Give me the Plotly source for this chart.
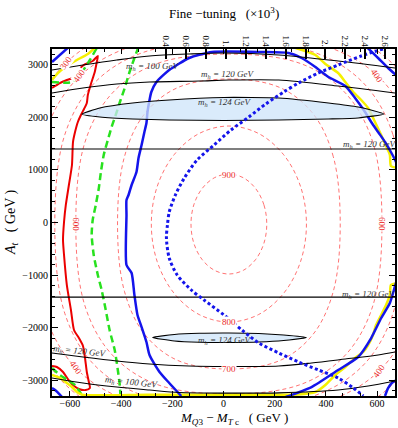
import plotly.graph_objects as go

# ---------------- data (GeV) ----------------
# fine-tuning contours (red dashed), closed loops
FT_LEVELS = [900, 800, 700, 600, 500, 400, 300]
FT900_x = [169,158,126,78,21,-36,-84,-116,-127,-116,-84,-36,21,78,126,158,169]
FT900_y = [-29,335,643,850,922,850,643,335,-29,-393,-701,-908,-980,-908,-701,-393,-29]
FT800_x = [324,301,235,137,21,-95,-193,-259,-282,-259,-193,-95,21,137,235,301,324]
FT800_y = [-29,685,1289,1693,1835,1693,1289,685,-29,-743,-1347,-1751,-1893,-1751,-1347,-743,-29]
FT700_x = [456,429,351,223,21,-181,-309,-387,-414,-387,-309,-181,21,223,351,429,456]
FT700_y = [-29,1251,2062,2561,2729,2561,2062,1251,-29,-1309,-2120,-2619,-2787,-2619,-2120,-1309,-29]
FT600_x = [619,584,479,307,21,-265,-437,-542,-577,-542,-437,-265,21,307,479,584,619]
FT600_y = [-29,1516,2448,3013,3204,3013,2448,1516,-29,-1574,-2506,-3071,-3262,-3071,-2506,-1574,-29]
FT500_x = [701,662,547,355,21,-313,-505,-620,-659,-620,-505,-313,21,355,547,662,701]
FT500_y = [-29,1671,2651,3236,3433,3236,2651,1671,-29,-1729,-2709,-3294,-3491,-3294,-2709,-1729,-29]
FT400_x = [778,735,607,393,21,-351,-565,-693,-736,-693,-565,-351,21,393,607,735,778]
FT400_y = [-29,1745,2768,3364,3585,3364,2768,1745,-29,-1803,-2826,-3422,-3643,-3422,-2826,-1803,-29]
FT300_x = [844,797,658,425,21,-383,-616,-755,-802,-755,-616,-383,21,425,658,797,844]
FT300_y = [-29,1913,3033,3685,3927,3685,3033,1913,-29,-1971,-3091,-3743,-3985,-3743,-3091,-1971,-29]

# fine-tuning contour labels
FT_LAB_text = ["900", "800", "700", "600", "600", "400", "400", "400", "400", "300"]
FT_LAB_x = [21, 21, 21, -577, 619, -565, 600, 607, -575, -616]
FT_LAB_y = [900, -1893, -2787, -29, -29, 2790, 2790, -2826, -2760, 3033]
FT_LAB_ang = [0, 0, 0, 90, 90, -55, 55, -55, 55, -55]

# m_h contours (black)
MH100U_x = [-670,-549,-417,-289,-134,2,216,448,670]
MH100U_y = [2901,2996,3091,3167,3205,3224,3186,3072,2939]
MH120U_x = [-670,-549,-417,-289,-95,21,216,448,670]
MH120U_y = [2463,2558,2634,2672,2691,2710,2710,2596,2463]
MH120M_x = [-670,0,670]
MH120M_y = [1398,1398,1398]
MH120N_x = [-670,0,670]
MH120N_y = [-1420,-1420,-1420]
MH120L_x = [-670,-549,-417,-289,-134,2,216,344,476,604,670]
MH120L_y = [-2482,-2558,-2634,-2691,-2729,-2739,-2729,-2672,-2596,-2520,-2463]
MH100L_x = [-670,-549,-417,-289,-173,2,216,448,565,670]
MH100L_y = [-2957,-3053,-3129,-3186,-3234,-3245,-3240,-3186,-3110,-3015]
# m_h = 124 GeV bands
MH124U_x = [-553,-483,-355,-212,2,216,410,526,627,526,410,216,2,-212,-355,-483,-553]
MH124U_y = [2060,2178,2273,2330,2378,2368,2273,2197,2064,1988,1969,1950,1940,1950,1969,2007,2060]
MH124L_x = [-277,-192,-95,21,138,235,324,235,138,21,-95,-192,-277]
MH124L_y = [-2187,-2130,-2107,-2102,-2111,-2140,-2187,-2244,-2273,-2282,-2279,-2254,-2187]

MH_LAB_text = ["100", "120", "124", "120", "120", "124", "120", "100"]
MH_LAB_x = [-277, 17, 2, 570, 566, 2, -561, -359]
MH_LAB_y = [2975, 2824, 2292, 1491, -1360, -2235, -2463, -3034]
MH_LAB_ang = [0, 0, 0, 0, 0, 0, 6, 6]

# red solid constraint
RED_x = [-670,-639,-612,-580,-569,-546,-511,-491,-495,-503,-518,-530,-534,-545,-557,-569,-580,-588,
         -592,-604,-616,-623,-627,-623,-612,-596,-584,-565,-549,-541,-534,-526,-522,-538,-565,-588,
         -608,-627,-651,-670]
RED_y = [2558,2653,2710,2767,2882,2996,3072,3167,3053,2863,2634,2425,2273,2159,2045,1912,1721,1531,
         1094,713,333,10,-333,-618,-1189,-1664,-2045,-2197,-2349,-2577,-2843,-3034,-3148,-3186,-3167,
         -3091,-2977,-2843,-2748,-2729]

# green dashed constraint
GRN_x = [-332,-348,-367,-386,-406,-421,-437,-452,-468,-479,-487,-499,-511,-515,-507,-491,-476,-460,
         -445,-425,-414,-406,-402]
GRN_y = [3338,3129,2863,2558,2273,2045,1817,1569,1284,960,656,333,48,-238,-618,-998,-1284,-1664,
         -2045,-2425,-2767,-3053,-3319]
GRN2_x = [-670,-592,-553,-522,-495]
GRN2_y = [2672,2672,2863,3091,3319]
GRN3_x = [-670,-639,-608,-580,-561,-549]
GRN3_y = [-2767,-2900,-2996,-3091,-3224,-3319]

# blue solid constraint
BLU_x = [-165,-212,-250,-289,-301,-320,-336,-348,-359,-379,-379,-379,-371,-359,-340,-332,-320,-309,
         -301,-297,-289,-282,-262,-212,-134,-45,149,254,305,359,410,476,514,553,577,604,631,654,674,
         760,674,650,616,577,526,448,344,243]
BLU_y = [-3300,-3053,-2843,-2520,-2273,-1988,-1759,-1379,-960,-808,143,428,523,713,960,1227,1474,
         1721,1893,2102,2330,2482,2672,2900,3129,3243,3243,3224,3129,2958,2767,2596,2368,2102,1912,
         1721,1531,1341,1151,0,-1151,-1531,-1817,-2197,-2558,-2805,-3129,-3319]
BLU2_x = [553,604,643,680]
BLU2_y = [3367,3129,2939,2780]
BLU3_x = [631,643,662,680]
BLU3_y = [-3300,-3148,-3034,-2990]
BLU4_x = [-670,-600]
BLU4_y = [3053,3357]
BLU5_x = [-670,-658,-631]
BLU5_y = [-3150,-3186,-3319]

# blue dotted
DOT_x = [623,538,448,371,293,235,165,99,29,-37,-103,-153,-188,-212,-219,-223,-212,-181,-126,-76,2,
         72,138,216,293,371,448,507,546]
DOT_y = [3300,3167,2996,2844,2653,2482,2254,2007,1759,1474,1189,846,523,200,-48,-295,-675,-998,
         -1284,-1474,-1759,-2045,-2292,-2482,-2653,-2805,-2958,-3148,-3300]

# yellow
YEL1_x = [-670,-647,-612,-573,-530,-503]
YEL1_y = [2710,2843,2977,3091,3205,3319]
YEL2_x = [282,359,398,448,476,507,538,565,592,616,635,650,654,680]
YEL2_y = [3319,3186,3015,2844,2672,2482,2330,2178,1912,1664,1455,1284,1075,1037]
YEL3_x = [-670,-639,-612,-592,-573,-553,-300,0,216,293,359,398,437,476,514,546,565,584,596,616,
          635,650,654,680]
YEL3_y = [-2900,-2958,-3053,-3129,-3224,-3275,-3275,-3275,-3275,-3270,-3224,-3091,-2901,-2748,
          -2577,-2463,-2330,-2140,-1950,-1759,-1569,-1379,-1189,-1151]

# top axis (fine-tuning x 10^3)
FT_TICKVALS = [0.4, 0.6, 0.8, 1.0, 1.2, 1.4, 1.6, 1.8, 2.0, 2.2, 2.4, 2.6]
FT_TICKTEXT = ["0.4", "0.6", "0.8", "1.", "1.2", "1.4", "1.6", "1.8", "2.", "2.2", "2.4", "2.6"]

SERIF = "Liberation Serif"

fig = go.Figure()

def ln(x, y, color, width, dash="solid", shape="spline", smoothing=1.0):
    fig.add_trace(go.Scatter(x=x, y=y, mode="lines", hoverinfo="skip",
                             line=dict(color=color, width=width, dash=dash, shape=shape,
                                       smoothing=smoothing)))

# red dashed fine-tuning contours
for xs, ys in [(FT900_x, FT900_y), (FT800_x, FT800_y), (FT700_x, FT700_y), (FT600_x, FT600_y),
               (FT500_x, FT500_y), (FT400_x, FT400_y), (FT300_x, FT300_y)]:
    ln(xs, ys, "rgba(255,90,90,0.85)", 1, dash="4px,3px")

# colored constraint lines
ln(RED_x, RED_y, "rgb(235,0,0)", 2, smoothing=0.6)
ln(GRN_x, GRN_y, "rgb(40,225,30)", 2.5, dash="7px,4px", smoothing=0.6)
ln(GRN2_x, GRN2_y, "rgb(40,225,30)", 2.5, dash="7px,4px", smoothing=0.6)
ln(GRN3_x, GRN3_y, "rgb(40,225,30)", 2.5, dash="7px,4px", smoothing=0.6)
ln(YEL1_x, YEL1_y, "rgb(245,240,0)", 2.5, smoothing=0.6)
ln(YEL2_x, YEL2_y, "rgb(245,240,0)", 2.5, smoothing=0.6)
ln(YEL3_x, YEL3_y, "rgb(245,240,0)", 2.5, smoothing=0.6)
ln(BLU_x, BLU_y, "rgb(20,20,235)", 2.5, smoothing=0.6)
ln(BLU2_x, BLU2_y, "rgb(20,20,235)", 2.5, smoothing=0.6)
ln(BLU3_x, BLU3_y, "rgb(20,20,235)", 2.5, smoothing=0.6)
ln(BLU4_x, BLU4_y, "rgb(20,20,235)", 2.5)
ln(BLU5_x, BLU5_y, "rgb(20,20,235)", 2.5)

# m_h = 124 GeV bands
for xs, ys in [(MH124U_x, MH124U_y), (MH124L_x, MH124L_y)]:
    fig.add_trace(go.Scatter(x=xs, y=ys, mode="lines", fill="toself", hoverinfo="skip",
                             fillcolor="rgba(205,228,250,0.75)",
                             line=dict(color="black", width=1.1, shape="spline", smoothing=0.5)))

# m_h black contours
for xs, ys in [(MH100U_x, MH100U_y), (MH120U_x, MH120U_y), (MH120M_x, MH120M_y),
               (MH120N_x, MH120N_y), (MH120L_x, MH120L_y), (MH100L_x, MH100L_y)]:
    ln(xs, ys, "black", 1.1, smoothing=0.8)

# blue dotted
ln(DOT_x, DOT_y, "rgb(20,20,235)", 3, dash="3px,2.5px", smoothing=0.8)

# dummy trace for top axis
fig.add_trace(go.Scatter(x=[FT_TICKVALS[0]], y=[0], xaxis="x2", mode="markers",
                         marker=dict(opacity=0), hoverinfo="skip"))

annotations = []
for t, x, y, a in zip(FT_LAB_text, FT_LAB_x, FT_LAB_y, FT_LAB_ang):
    annotations.append(dict(x=x, y=y, text=t, showarrow=False, textangle=a,
                            xanchor="center", yanchor="middle",
                            font=dict(family=SERIF, size=9, color="rgb(235,40,40)"),
                            bgcolor="white", borderpad=0))
for t, x, y, a in zip(MH_LAB_text, MH_LAB_x, MH_LAB_y, MH_LAB_ang):
    annotations.append(dict(x=x, y=y, text="<i>m</i><sub><i>h</i></sub><i> = " + t + " GeV</i>",
                            showarrow=False, textangle=a, xanchor="center", yanchor="middle",
                            font=dict(family=SERIF, size=9, color="#333")))

annotations.append(dict(xref="paper", yref="paper", x=0.53, y=-0.066,
                        xanchor="center", yanchor="middle",
                        text="<i>M</i><sub><i>Q</i>3</sub> − <i>M</i><sub><i>T</i> c</sub>   ( GeV )",
                        showarrow=False, font=dict(family=SERIF, size=13, color="black")))
annotations.append(dict(xref="paper", yref="paper", x=-0.118, y=0.5, textangle=-90,
                        xanchor="center", yanchor="middle",
                        text="<i>A</i><sub><i>t</i></sub>   ( GeV )",
                        showarrow=False, font=dict(family=SERIF, size=14, color="black")))
annotations.append(dict(xref="paper", yref="paper", x=0.5, y=1.104,
                        xanchor="center", yanchor="middle",
                        text="Fine −tuning   (×10<sup>3</sup>)",
                        showarrow=False, font=dict(family=SERIF, size=13, color="black")))

fig.update_layout(
    width=398, height=428,
    margin=dict(l=52, r=1, t=49, b=32),
    plot_bgcolor="white", paper_bgcolor="white",
    showlegend=False,
    annotations=annotations,
    xaxis=dict(range=[-670, 670], showgrid=False, zeroline=False,
               showline=True, linecolor="black", linewidth=2, mirror="ticks",
               ticks="inside", ticklen=5, tickwidth=1.2, tickcolor="black",
               tickvals=[-600, -400, -200, 0, 200, 400, 600], ticklabelstandoff=-3,
               tickfont=dict(family=SERIF, size=10, color="black"),
               minor=dict(dtick=200 / 3, tick0=0, ticks="inside", ticklen=3, tickcolor="black")),
    yaxis=dict(range=[-3300, 3300], showgrid=False, zeroline=False,
               showline=True, linecolor="black", linewidth=2, mirror="ticks",
               ticks="inside", ticklen=6, tickwidth=1.2, tickcolor="black",
               tickvals=[-3000, -2000, -1000, 0, 1000, 2000, 3000],
               tickfont=dict(family=SERIF, size=10, color="black"),
               minor=dict(dtick=200, ticks="inside", ticklen=3, tickcolor="black")),
    xaxis2=dict(overlaying="x", side="top", range=[-0.75, 2.70], showgrid=False,
                zeroline=False, showline=False,
                tickvals=FT_TICKVALS, ticktext=FT_TICKTEXT, tickangle=90,
                ticks="inside", ticklen=10, tickwidth=2, tickcolor="black",
                tickfont=dict(family=SERIF, size=9, color="black")),
)

fig.write_html("out.html", config={"displayModeBar": False})
